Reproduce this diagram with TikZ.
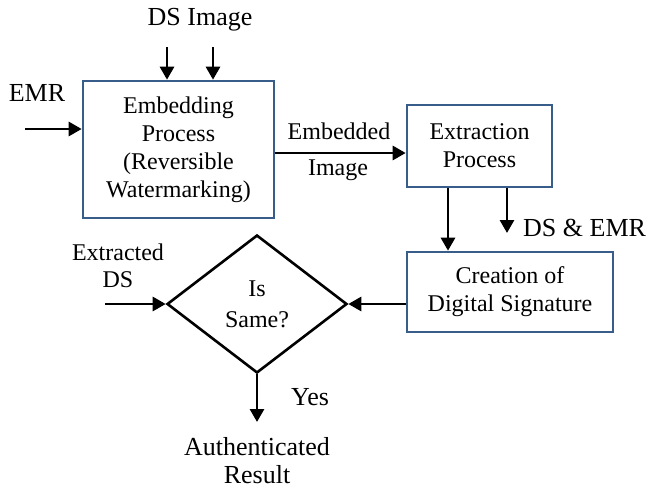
\documentclass[tikz,border=0pt]{standalone}
\usepackage{fontspec}
\setmainfont{Liberation Serif}
\usetikzlibrary{shapes.geometric, arrows.meta, positioning, calc}
\definecolor{boxblue}{HTML}{385D8A}

\begin{document}
\begin{tikzpicture}[
  x=1pt, y=-1pt,
  procbox/.style={rectangle, draw=boxblue, line width=2.6pt, align=center, inner sep=0pt, font=\fontsize{24}{28}\selectfont},
  decision/.style={diamond, draw=black, line width=2.6pt, inner sep=0pt, minimum width=180pt, minimum height=138pt, align=center, font=\fontsize{24}{31}\selectfont},
  lbl/.style={align=center, inner sep=0pt, font=\fontsize{24}{27}\selectfont},
  biglbl/.style={align=center, inner sep=0pt, font=\fontsize{26}{28}\selectfont},
  arrow/.style={-{Triangle[length=13pt, width=14pt]}, line width=2.8pt, draw=black}
]
  \useasboundingbox (0,0) rectangle (651,490);

  % Process boxes
  \node[procbox, minimum width=191pt, minimum height=137pt] (embed) at (178.5,149.5) {Embedding\\Process\\(Reversible\\Watermarking)};
  \node[procbox, minimum width=145pt, minimum height=82pt] (extract) at (479.5,146) {Extraction\\Process};
  \node[procbox, minimum width=206pt, minimum height=80pt] (create) at (510,292) {Creation of\\Digital Signature};
  \node[decision] (same) at (257,304) {Is\\Same?};

  % Labels
  \node[biglbl] (dsimg) at (200,20) {DS Image};
  \node[biglbl] (emr) at (37,93) {EMR};
  \node[lbl] (embtop) at (339,131) {Embedded};
  \node[lbl] (embbot) at (338,170) {Image};
  \node[biglbl, anchor=west] (dsemr) at (523,228) {DS \& EMR};
  \node[lbl] (exds) at (118,266) {Extracted\\DS};
  \node[biglbl, anchor=west] (yes) at (291,397) {Yes};
  \node[biglbl] (result) at (257,461) {Authenticated\\Result};

  % Free ends
  \coordinate (dsinA) at (167,47);
  \coordinate (dsinB) at (213,47);
  \coordinate (emrin) at (25,129);
  \coordinate (exin) at (105,304);
  \coordinate (dsout) at (507,233);
  \coordinate (yesout) at (257,422);

  % Arrows
  \draw[arrow] (dsinA) -- (dsinA |- embed.north);
  \draw[arrow] (dsinB) -- (dsinB |- embed.north);
  \draw[arrow] (emrin) -- (emrin -| embed.west);
  \draw[arrow] ([yshift=-3.5pt]embed.east) -- ([yshift=-3.5pt]embed.east -| extract.west);
  \draw[arrow] (extract.south -| 448,0) -- (create.north -| 448,0);
  \draw[arrow] (dsout |- extract.south) -- (dsout);
  \draw[arrow] (same.east -| create.west) -- (same.east);
  \draw[arrow] (exin |- same.west) -- (same.west);
  \draw[arrow] (same.south) -- (yesout);
\end{tikzpicture}
\end{document}
